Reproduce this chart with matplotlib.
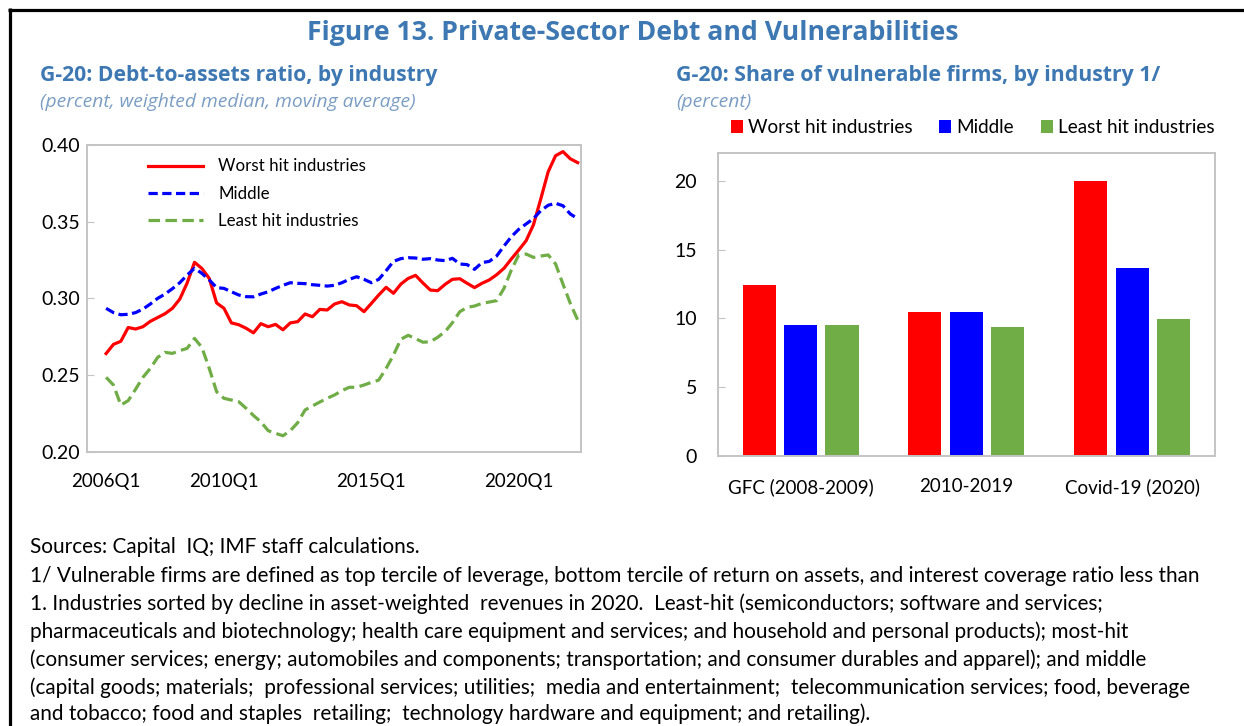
import matplotlib
matplotlib.use("Agg")
import matplotlib.pyplot as plt
from matplotlib.lines import Line2D
import numpy as np

# ---------------- data ----------------
quarters = [f"{y}Q{q}" for y in range(2006, 2023) for q in range(1, 5)][:65]
xtick_labels = ["2006Q1", "2010Q1", "2015Q1", "2020Q1"]

worst_hit = [0.264, 0.270, 0.272, 0.281, 0.280, 0.2815, 0.285, 0.2875, 0.290, 0.2935,
             0.2995, 0.310, 0.3235, 0.3195, 0.313, 0.297, 0.2935, 0.284, 0.2828, 0.2805,
             0.2775, 0.2835, 0.2815, 0.283, 0.2795, 0.284, 0.2848, 0.2898, 0.288, 0.2928,
             0.2924, 0.2963, 0.2978, 0.2957, 0.2952, 0.2913, 0.2967, 0.3022, 0.3072, 0.3033,
             0.3093, 0.313, 0.315, 0.310, 0.3054, 0.305, 0.3091, 0.3124, 0.3128, 0.3098,
             0.307, 0.3098, 0.312, 0.3154, 0.3196, 0.3257, 0.3315, 0.3376, 0.348, 0.365,
             0.3826, 0.393, 0.3957, 0.391, 0.3885]
middle = [0.2935, 0.2907, 0.2893, 0.2896, 0.2907, 0.293, 0.2963, 0.300, 0.3028, 0.3063,
          0.3102, 0.3152, 0.3196, 0.3163, 0.312, 0.307, 0.3065, 0.3043, 0.3022, 0.3011,
          0.301, 0.3028, 0.3043, 0.3065, 0.3085, 0.3102, 0.3098, 0.3096, 0.3089, 0.3085,
          0.308, 0.3085, 0.3102, 0.3124, 0.3141, 0.3124, 0.3102, 0.3124, 0.318, 0.3241,
          0.3259, 0.3265, 0.3263, 0.3255, 0.3259, 0.325, 0.3246, 0.3261, 0.3224, 0.322,
          0.3189, 0.3233, 0.3241, 0.3276, 0.3341, 0.3402, 0.345, 0.3485, 0.352, 0.3572,
          0.3607, 0.362, 0.3604, 0.355, 0.352]
least_hit = [0.2485, 0.2435, 0.2304, 0.2333, 0.2407, 0.2485, 0.2543, 0.2615, 0.2648, 0.2641,
             0.2659, 0.2674, 0.2739, 0.268, 0.2543, 0.2391, 0.2348, 0.2337, 0.2326, 0.2283,
             0.2236, 0.2195, 0.2137, 0.212, 0.2104, 0.2137, 0.2189, 0.2272, 0.2298, 0.2324,
             0.2348, 0.237, 0.2398, 0.242, 0.242, 0.2435, 0.2452, 0.2467, 0.2543, 0.263,
             0.2733, 0.2759, 0.2737, 0.2714, 0.2717, 0.2746, 0.2783, 0.2841, 0.2913, 0.2941,
             0.295, 0.2967, 0.2976, 0.2985, 0.3065, 0.3185, 0.3283, 0.3289, 0.3267, 0.3276,
             0.3283, 0.3224, 0.3093, 0.2967, 0.2859]

bar_categories = ["GFC (2008-2009)", "2010-2019", "Covid-19 (2020)"]
bar_worst = [12.4, 10.45, 20.0]
bar_middle = [9.55, 10.45, 13.65]
bar_least = [9.5, 9.35, 9.95]

series_names = ["Worst hit industries", "Middle", "Least hit industries"]

footnotes = [
    "Sources: Capital  IQ; IMF staff calculations.",
    "1/ Vulnerable firms are defined as top tercile of leverage, bottom tercile of return on assets, and interest coverage ratio less than",
    "1. Industries sorted by decline in asset-weighted  revenues in 2020.  Least-hit (semiconductors; software and services;",
    "pharmaceuticals and biotechnology; health care equipment and services; and household and personal products); most-hit",
    "(consumer services; energy; automobiles and components; transportation; and consumer durables and apparel); and middle",
    "(capital goods; materials;  professional services; utilities;  media and entertainment;  telecommunication services; food, beverage",
    "and tobacco; food and staples  retailing;  technology hardware and equipment; and retailing).",
]

# ---------------- style ----------------
RED = "#FF0000"
BLUE = "#0000FF"
GREEN = "#70AD47"
TITLE_BLUE = "#3D78B2"
SUB_BLUE = "#7B9DC2"
FRAME = "#C4C4C4"

plt.rcParams["font.family"] = ["Lato", "DejaVu Sans"]

W, H = 1244, 726
fig = plt.figure(figsize=(W / 100, H / 100), dpi=100)
fig.patch.set_facecolor("white")
renderer = fig.canvas.get_renderer()


def fx(px):
    return px / W


def fy(py):
    return 1 - py / H


def fit_size(s, target, **kw):
    t = fig.text(0, 0, s, fontsize=10, **kw)
    w = t.get_window_extent(renderer=renderer).width
    t.remove()
    return 10 * target / w


# border (top and left only)
fig.add_artist(Line2D([fx(8), 1.0], [fy(9.5), fy(9.5)], color="black", lw=2.3,
                      transform=fig.transFigure, solid_capstyle="butt"))
fig.add_artist(Line2D([fx(9.5), fx(9.5)], [fy(8), 0], color="black", lw=2.3,
                      transform=fig.transFigure, solid_capstyle="butt"))

# titles
title_kw = dict(family=["Open Sans", "DejaVu Sans"], weight="bold", color=TITLE_BLUE)
s = "Figure 13. Private-Sector Debt and Vulnerabilities"
fig.text(fx(633), fy(33), s, ha="center", va="center",
         fontsize=fit_size(s, 654, **title_kw), **title_kw)

s = "G-20: Debt-to-assets ratio, by industry"
fig.text(fx(40), fy(75), s, ha="left", va="center",
         fontsize=fit_size(s, 398, **title_kw), **title_kw)
s = "G-20: Share of vulnerable firms, by industry 1/"
fig.text(fx(676), fy(75), s, ha="left", va="center",
         fontsize=fit_size(s, 484, **title_kw), **title_kw)

sub_kw = dict(family=["Open Sans", "DejaVu Sans"], style="italic", color=SUB_BLUE)
s = "(percent, weighted median, moving average)"
sub_fs = fit_size(s, 375, **sub_kw)
fig.text(fx(40), fy(102), s, ha="left", va="center", fontsize=sub_fs, **sub_kw)
fig.text(fx(676), fy(102), "(percent)", ha="left", va="center", fontsize=sub_fs, **sub_kw)

# ---------------- left chart ----------------
ax1 = fig.add_axes([fx(87.3), fy(451.7), fx(581 - 87.3), (451.7 - 145) / H])
x = np.arange(len(quarters))
ax1.plot(x, worst_hit, color=RED, lw=2.3, label=series_names[0], solid_joinstyle="round")
ax1.plot(x, middle, color=BLUE, lw=2.3, dashes=(2.9, 1.4), label=series_names[1])
ax1.plot(x, least_hit, color=GREEN, lw=2.3, dashes=(3.6, 1.7), label=series_names[2])
ax1.set_xlim(-2.55, 64.45)
ax1.set_ylim(0.20, 0.40)
ax1.set_yticks([0.20, 0.25, 0.30, 0.35, 0.40])
ax1.set_yticklabels(["0.20", "0.25", "0.30", "0.35", "0.40"])
ax1.set_xticks([quarters.index(q) for q in xtick_labels])
ax1.set_xticklabels(xtick_labels)
ax1.tick_params(axis="y", direction="in", length=5, color=FRAME, pad=5, labelsize=14)
ax1.tick_params(axis="x", length=0, pad=15, labelsize=13.5)
for sp in ax1.spines.values():
    sp.set_color(FRAME)
    sp.set_linewidth(1.4)
ax1.legend(loc="upper left", bbox_to_anchor=(0.123, 0.956), frameon=False,
           borderpad=0, borderaxespad=0, handlelength=3.25, handletextpad=0.9,
           labelspacing=0.66, fontsize=12.2)

# ---------------- right chart ----------------
ax2 = fig.add_axes([fx(717.7), fy(456), fx(1215 - 717.7), (456 - 153.3) / H])
xb = np.arange(len(bar_categories))
ax2.bar(xb - 0.25, bar_worst, width=0.2, color=RED, label=series_names[0])
ax2.bar(xb, bar_middle, width=0.2, color=BLUE, label=series_names[1])
ax2.bar(xb + 0.25, bar_least, width=0.2, color=GREEN, label=series_names[2])
ax2.set_xlim(-0.5, 2.5)
ax2.set_ylim(0, 22)
ax2.set_yticks([0, 5, 10, 15, 20])
ax2.set_xticks(xb)
ax2.set_xticklabels(bar_categories)
ax2.tick_params(axis="y", direction="in", length=5, color=FRAME, pad=15, labelsize=14)
ax2.tick_params(axis="x", length=0, pad=16, labelsize=13.5)
for sp in ax2.spines.values():
    sp.set_color(FRAME)
    sp.set_linewidth(1.4)
ax2.legend(loc="center left",
           bbox_to_anchor=((731 - 717.7) / (1215 - 717.7), (456 - 127.5) / (456 - 153.3)),
           ncol=3, frameon=False, borderpad=0, borderaxespad=0, handlelength=0.64,
           handleheight=0.64, handletextpad=0.27, columnspacing=1.4, fontsize=13.6)

# ---------------- footnotes ----------------
foot_kw = dict(family=["Lato", "DejaVu Sans"], color="black")
sizes = [fit_size(footnotes[i], t, **foot_kw) for i, t in [(1, 1202), (3, 1080), (4, 1120), (5, 1146)]]
foot_fs = float(np.mean(sizes))
foot_y = [547, 576, 604, 632, 660, 688, 714]
for s, yy in zip(footnotes, foot_y):
    fig.text(fx(30), fy(yy), s, ha="left", va="center", fontsize=foot_fs, **foot_kw)

fig.savefig("out.png", dpi=100, facecolor="white")
